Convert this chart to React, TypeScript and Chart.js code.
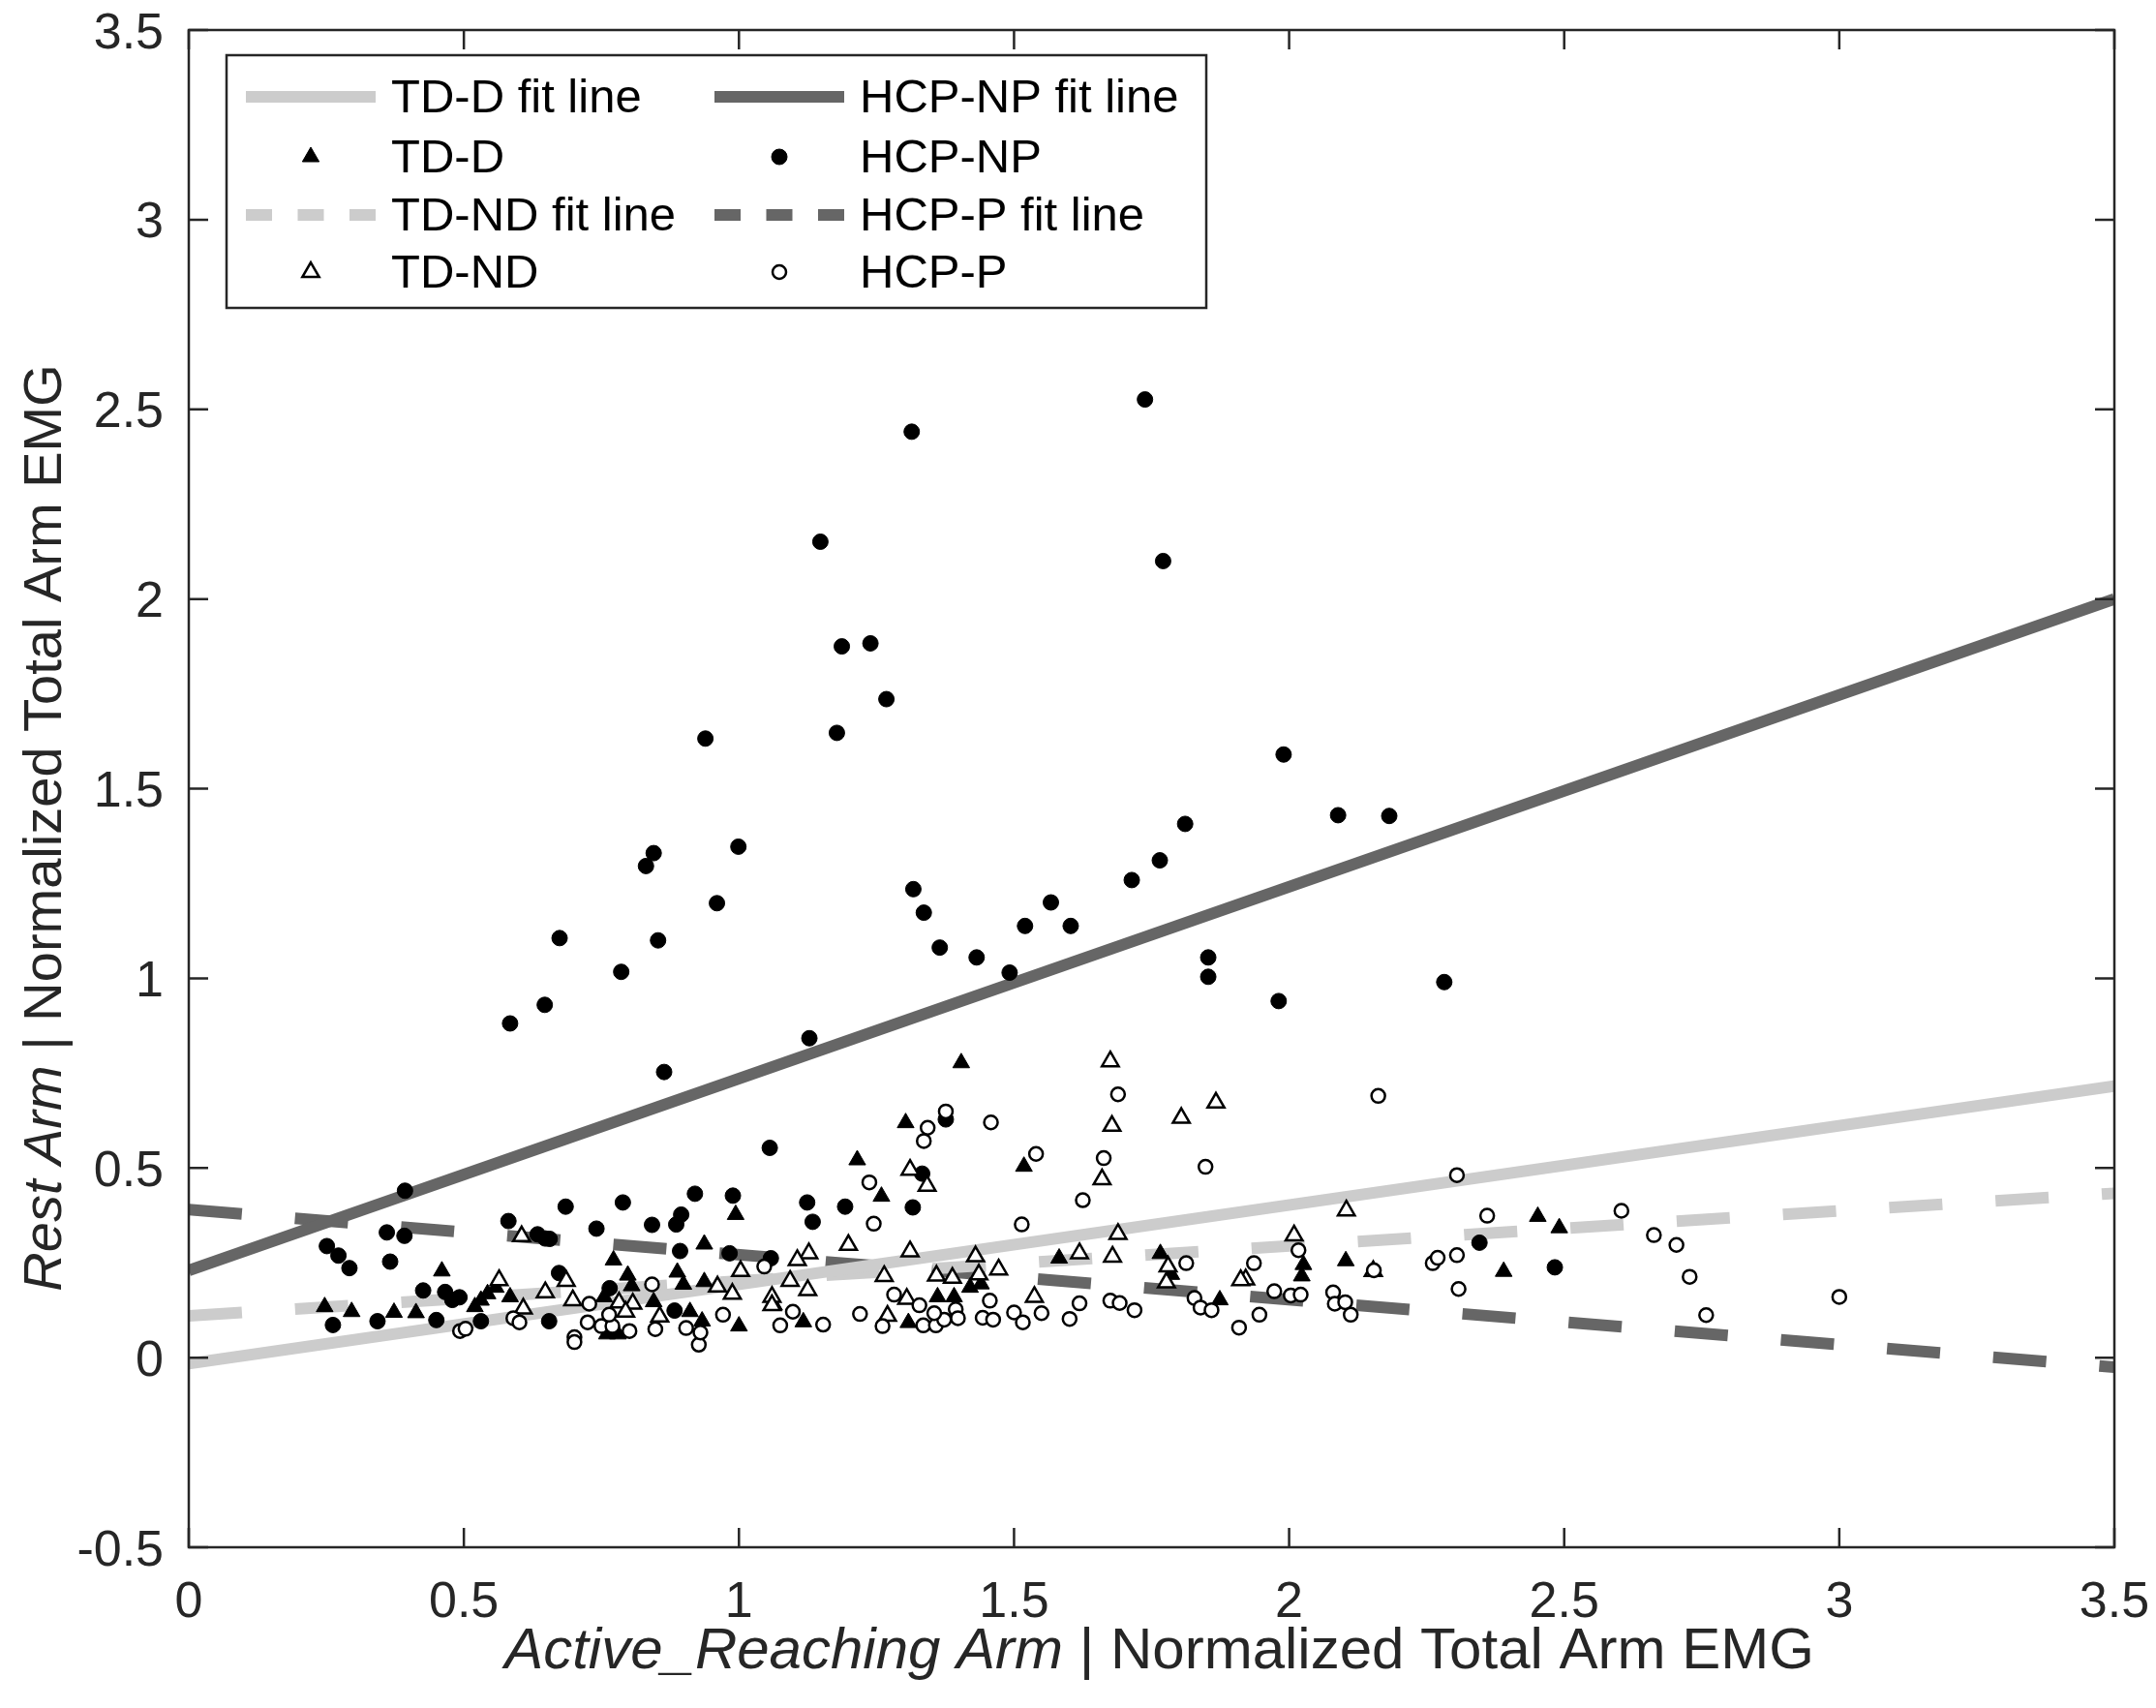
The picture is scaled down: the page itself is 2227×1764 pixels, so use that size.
import { useEffect, useRef } from "react";
import { Chart, registerables, type ChartConfiguration, type Plugin } from "chart.js";

Chart.register(...registerables);

// ---- data (x = active reaching arm, y = rest arm) ----
const tdD: [number, number][] = [
  [0.247, 0.134], [0.296, 0.121], [0.373, 0.119], [0.413, 0.118], [0.46, 0.228],
  [0.52, 0.134], [0.531, 0.151], [0.543, 0.168], [0.558, 0.185], [0.584, 0.16],
  [0.772, 0.257], [0.798, 0.217], [0.805, 0.189], [0.845, 0.147], [0.888, 0.225],
  [0.899, 0.193], [0.911, 0.121], [0.937, 0.299], [0.937, 0.2], [0.755, 0.16],
  [0.76, 0.062], [0.78, 0.062], [0.933, 0.096], [1.404, 0.777], [1.303, 0.619],
  [1.215, 0.521], [1.259, 0.425], [1.518, 0.504], [0.994, 0.377], [1.0, 0.083],
  [1.117, 0.094], [1.064, 0.138], [1.308, 0.092], [1.361, 0.16], [1.391, 0.16],
  [1.42, 0.185], [1.44, 0.194], [1.582, 0.262], [1.766, 0.274], [1.786, 0.219],
  [1.874, 0.152], [2.026, 0.245], [2.023, 0.215], [2.103, 0.255], [2.452, 0.372],
  [2.491, 0.342], [2.39, 0.227],
];

const tdND: [number, number][] = [
  [0.605, 0.32], [0.564, 0.204], [0.648, 0.172], [0.686, 0.202], [0.698, 0.151],
  [0.608, 0.129], [0.782, 0.145], [0.807, 0.142], [0.794, 0.121], [0.856, 0.108],
  [1.199, 0.297], [1.311, 0.495], [1.342, 0.453], [1.311, 0.28], [1.127, 0.275],
  [1.106, 0.257], [1.003, 0.228], [0.961, 0.187], [0.988, 0.168], [1.093, 0.202],
  [1.125, 0.178], [1.06, 0.16], [1.06, 0.138], [1.264, 0.215], [1.359, 0.216],
  [1.388, 0.21], [1.43, 0.267], [1.436, 0.219], [1.472, 0.232], [1.537, 0.16],
  [1.619, 0.275], [1.305, 0.155], [1.27, 0.11], [1.675, 0.781], [1.678, 0.611],
  [1.66, 0.47], [1.804, 0.632], [1.867, 0.672], [2.104, 0.388], [1.689, 0.326],
  [1.679, 0.266], [1.78, 0.24], [1.777, 0.198], [1.921, 0.206], [1.912, 0.204],
  [2.009, 0.322], [2.153, 0.228],
];

const hcpNP: [number, number][] = [
  [1.738, 2.526], [1.314, 2.441], [1.148, 2.151], [1.771, 2.1], [1.187, 1.875],
  [1.239, 1.883], [1.268, 1.736], [1.178, 1.647], [0.939, 1.632], [0.845, 1.33],
  [0.831, 1.296], [0.999, 1.347], [0.96, 1.198], [0.674, 1.106], [0.853, 1.1],
  [0.786, 1.017], [0.647, 0.93], [0.584, 0.881], [1.128, 0.842], [1.317, 1.235],
  [1.336, 1.173], [1.365, 1.081], [1.432, 1.055], [1.492, 1.015], [1.52, 1.138],
  [1.567, 1.2], [1.603, 1.138], [1.714, 1.259], [1.765, 1.311], [1.811, 1.407],
  [1.99, 1.59], [2.089, 1.43], [2.182, 1.428], [1.853, 1.055], [1.853, 1.004],
  [1.981, 0.94], [2.282, 0.99], [0.864, 0.753], [0.393, 0.44], [0.251, 0.294],
  [0.272, 0.269], [0.292, 0.236], [0.36, 0.33], [0.392, 0.321], [0.366, 0.253],
  [0.262, 0.086], [0.343, 0.096], [0.426, 0.177], [0.45, 0.099], [0.466, 0.173],
  [0.479, 0.152], [0.492, 0.159], [0.581, 0.36], [0.634, 0.325], [0.648, 0.314],
  [0.656, 0.313], [0.685, 0.398], [0.741, 0.34], [0.789, 0.409], [0.842, 0.35],
  [0.886, 0.351], [0.895, 0.377], [0.92, 0.432], [0.893, 0.281], [0.673, 0.223],
  [0.531, 0.096], [0.655, 0.096], [0.765, 0.183], [0.883, 0.124], [0.989, 0.427],
  [1.056, 0.553], [1.124, 0.409], [1.134, 0.358], [1.193, 0.398], [1.316, 0.396],
  [1.333, 0.485], [1.376, 0.628], [0.983, 0.275], [1.058, 0.262], [2.346, 0.303],
  [2.483, 0.238],
];

const hcpP: [number, number][] = [
  [0.493, 0.07], [0.503, 0.076], [0.59, 0.104], [0.601, 0.093], [0.701, 0.054],
  [0.701, 0.041], [0.725, 0.093], [0.728, 0.142], [0.75, 0.083], [0.77, 0.083],
  [0.764, 0.113], [0.801, 0.07], [0.842, 0.193], [0.848, 0.075], [0.904, 0.078],
  [0.927, 0.034], [1.376, 0.649], [1.343, 0.606], [1.336, 0.571], [1.458, 0.62],
  [1.54, 0.537], [1.237, 0.462], [1.245, 0.353], [1.514, 0.351], [1.625, 0.415],
  [1.046, 0.24], [0.971, 0.113], [0.93, 0.066], [1.075, 0.085], [1.098, 0.121],
  [1.153, 0.087], [1.22, 0.115], [1.261, 0.083], [1.282, 0.166], [1.328, 0.138],
  [1.335, 0.085], [1.358, 0.085], [1.373, 0.1], [1.355, 0.117], [1.394, 0.127],
  [1.398, 0.104], [1.443, 0.105], [1.462, 0.1], [1.456, 0.15], [1.5, 0.119],
  [1.516, 0.093], [1.55, 0.117], [1.601, 0.102], [1.619, 0.143], [1.689, 0.694],
  [1.663, 0.526], [1.848, 0.503], [2.162, 0.69], [2.305, 0.481], [1.813, 0.249],
  [1.936, 0.249], [2.017, 0.283], [2.154, 0.23], [2.261, 0.249], [2.27, 0.263],
  [2.305, 0.27], [2.308, 0.181], [1.675, 0.15], [1.692, 0.144], [1.719, 0.125],
  [1.828, 0.157], [1.839, 0.132], [1.859, 0.125], [1.909, 0.079], [1.946, 0.113],
  [1.973, 0.175], [2.003, 0.164], [2.021, 0.166], [2.08, 0.172], [2.083, 0.142],
  [2.102, 0.146], [2.112, 0.113], [2.36, 0.374], [2.604, 0.387], [2.663, 0.323],
  [2.704, 0.297], [2.728, 0.213], [2.758, 0.112], [3.0, 0.16],
];

// fit line end points at x = 0 and x = 3.5
const tdDFit: [number, number][] = [[0, -0.016], [3.5, 0.716]];
const tdNDFit: [number, number][] = [[0, 0.11], [3.5, 0.433]];
const hcpNPFit: [number, number][] = [[0, 0.23], [3.5, 2.0]];
const hcpPFit: [number, number][] = [[0, 0.39], [3.5, -0.025]];

// legend layout: two columns, filled column by column
const legendColumns: string[][] = [
  ["TD-D fit line", "TD-D", "TD-ND fit line", "TD-ND"],
  ["HCP-NP fit line", "HCP-NP", "HCP-P fit line", "HCP-P"],
];

const FONT = '"Liberation Sans", Arial, Helvetica, sans-serif';
const AXIS = "#262626";
const LIGHT = "#cccccc";
const DARK = "#666666";
const LINE_W = 12;
const TICK = 20;
const TICK_FONT = 52;

const pts = (arr: [number, number][]) => arr.map(([x, y]) => ({ x, y }));

// MATLAB-style box with inward ticks on all four sides, plus tick labels
const frame: Plugin = {
  id: "frame",
  afterDatasetsDraw(chart) {
    const { ctx, chartArea: a } = chart;
    const sx = chart.scales.x;
    const sy = chart.scales.y;
    ctx.save();
    ctx.strokeStyle = AXIS;
    ctx.lineWidth = 2.5;
    ctx.strokeRect(a.left, a.top, a.right - a.left, a.bottom - a.top);
    ctx.beginPath();
    sx.ticks.forEach((t) => {
      const p = sx.getPixelForValue(t.value);
      ctx.moveTo(p, a.bottom);
      ctx.lineTo(p, a.bottom - TICK);
      ctx.moveTo(p, a.top);
      ctx.lineTo(p, a.top + TICK);
    });
    sy.ticks.forEach((t) => {
      const p = sy.getPixelForValue(t.value);
      ctx.moveTo(a.left, p);
      ctx.lineTo(a.left + TICK, p);
      ctx.moveTo(a.right, p);
      ctx.lineTo(a.right - TICK, p);
    });
    ctx.stroke();

    ctx.fillStyle = AXIS;
    ctx.font = `${TICK_FONT}px ${FONT}`;
    ctx.textBaseline = "alphabetic";
    ctx.textAlign = "center";
    sx.ticks.forEach((t) => {
      ctx.fillText(String(t.value), sx.getPixelForValue(t.value), a.bottom + 72);
    });
    ctx.textAlign = "right";
    sy.ticks.forEach((t) => {
      ctx.fillText(String(t.value), a.left - 26, sy.getPixelForValue(t.value) + TICK_FONT * 0.358);
    });
    ctx.restore();
  },
};

function drawMixed(ctx: CanvasRenderingContext2D, italic: string, rest: string, size: number) {
  ctx.font = `italic ${size}px ${FONT}`;
  const w1 = ctx.measureText(italic).width;
  ctx.font = `${size}px ${FONT}`;
  const w2 = ctx.measureText(rest).width;
  const start = -(w1 + w2) / 2;
  ctx.font = `italic ${size}px ${FONT}`;
  ctx.fillText(italic, start, 0);
  ctx.font = `${size}px ${FONT}`;
  ctx.fillText(rest, start + w1, 0);
}

const titles: Plugin = {
  id: "titles",
  afterDraw(chart) {
    const { ctx, chartArea: a } = chart;
    ctx.save();
    ctx.fillStyle = AXIS;
    ctx.textAlign = "left";
    ctx.textBaseline = "alphabetic";
    ctx.save();
    ctx.translate((a.left + a.right) / 2 + 8, 1723);
    drawMixed(ctx, "Active_Reaching Arm", " | Normalized Total Arm EMG", 60);
    ctx.restore();
    ctx.save();
    ctx.translate(63, 855);
    ctx.rotate(-Math.PI / 2);
    drawMixed(ctx, "Rest Arm", " | Normalized Total Arm EMG", 56);
    ctx.restore();
    ctx.restore();
  },
};

const boxLegend: Plugin = {
  id: "boxLegend",
  afterDraw(chart) {
    const { ctx } = chart;
    const box = { l: 234, t: 57, r: 1246, b: 318 };
    const rows = [100, 162, 222, 281];
    const colX = [254, 738];
    const sampleW = 134;
    ctx.save();
    ctx.fillStyle = "#ffffff";
    ctx.fillRect(box.l, box.t, box.r - box.l, box.b - box.t);
    ctx.strokeStyle = AXIS;
    ctx.lineWidth = 2.5;
    ctx.strokeRect(box.l, box.t, box.r - box.l, box.b - box.t);
    legendColumns.forEach((col, ci) => {
      col.forEach((label, ri) => {
        const ds: any = chart.data.datasets.find((d) => d.label === label);
        if (!ds) return;
        const x0 = colX[ci];
        const y = rows[ri];
        if (ds.showLine) {
          ctx.save();
          ctx.strokeStyle = ds.borderColor;
          ctx.lineWidth = LINE_W;
          ctx.lineCap = "butt";
          ctx.setLineDash(ds.borderDash && ds.borderDash.length ? [27, 26.5] : []);
          ctx.beginPath();
          ctx.moveTo(x0, y);
          ctx.lineTo(x0 + sampleW, y);
          ctx.stroke();
          ctx.restore();
        } else {
          ctx.save();
          ctx.lineWidth = ds.pointBorderWidth;
          ctx.strokeStyle = ds.pointBorderColor;
          ctx.fillStyle = ds.pointBackgroundColor;
          const cx = x0 + sampleW / 2;
          const r = ds.pointRadius;
          ctx.beginPath();
          if (ds.pointStyle === "triangle") {
            ctx.moveTo(cx, y - r);
            ctx.lineTo(cx + r * 0.866, y + r * 0.5);
            ctx.lineTo(cx - r * 0.866, y + r * 0.5);
            ctx.closePath();
          } else {
            ctx.arc(cx, y, r, 0, Math.PI * 2);
          }
          ctx.fill();
          ctx.stroke();
          ctx.restore();
        }
        ctx.fillStyle = "#000000";
        ctx.font = `49px ${FONT}`;
        ctx.textAlign = "left";
        ctx.textBaseline = "middle";
        ctx.fillText(label, x0 + sampleW + 16, y + 2);
      });
    });
    ctx.restore();
  },
};

function fitLine(label: string, data: [number, number][], color: string, dashed: boolean) {
  return {
    type: "line" as const,
    label,
    data: pts(data),
    showLine: true,
    borderColor: color,
    borderWidth: LINE_W,
    borderDash: dashed ? [55, 55] : [],
    borderCapStyle: "butt" as const,
    pointRadius: 0,
    fill: false,
    order: 10,
  };
}

function markers(label: string, data: [number, number][], style: "triangle" | "circle", filled: boolean, r: number) {
  return {
    type: "scatter" as const,
    label,
    data: pts(data),
    showLine: false,
    pointStyle: style,
    pointRadius: r,
    pointBackgroundColor: filled ? "#000000" : "#ffffff",
    pointBorderColor: "#000000",
    pointBorderWidth: filled ? 1 : 2.5,
    order: 1,
  };
}

export default function App() {
  const canvasRef = useRef<HTMLCanvasElement>(null);

  useEffect(() => {
    if (!canvasRef.current) return;
    const config: ChartConfiguration = {
      type: "scatter",
      data: {
        datasets: [
          fitLine("TD-D fit line", tdDFit, LIGHT, false),
          fitLine("TD-ND fit line", tdNDFit, LIGHT, true),
          fitLine("HCP-NP fit line", hcpNPFit, DARK, false),
          fitLine("HCP-P fit line", hcpPFit, DARK, true),
          markers("HCP-P", hcpP, "circle", false, 7),
          markers("TD-ND", tdND, "triangle", false, 10),
          markers("HCP-NP", hcpNP, "circle", true, 8),
          markers("TD-D", tdD, "triangle", true, 10),
        ] as any,
      },
      options: {
        animation: false,
        responsive: true,
        maintainAspectRatio: false,
        layout: { autoPadding: false, padding: { left: 195, top: 31, right: 43, bottom: 166 } },
        plugins: { legend: { display: false }, tooltip: { enabled: false } },
        scales: {
          x: {
            type: "linear",
            display: false,
            min: 0,
            max: 3.5,
            ticks: { stepSize: 0.5 },
          },
          y: {
            type: "linear",
            display: false,
            min: -0.5,
            max: 3.5,
            ticks: { stepSize: 0.5 },
          },
        },
      },
      plugins: [frame, titles, boxLegend],
    };
    const chart = new Chart(canvasRef.current, config);
    return () => chart.destroy();
  }, []);

  return (
    <div style={{ position: "absolute", left: 0, top: 0, width: 2227, height: 1764, background: "#ffffff" }}>
      <canvas ref={canvasRef} role="img" aria-label="Rest arm vs active reaching arm normalized EMG" />
    </div>
  );
}
